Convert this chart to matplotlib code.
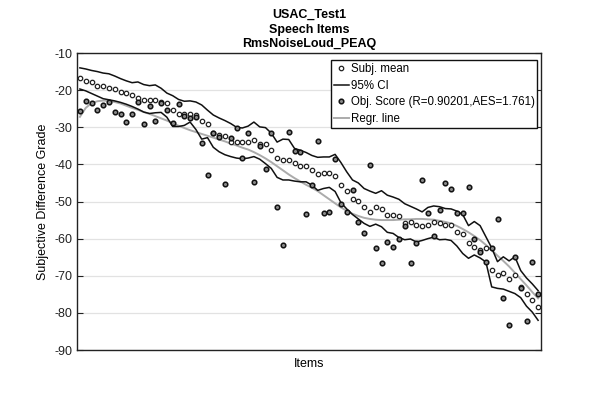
import matplotlib
matplotlib.use("Agg")
import matplotlib.pyplot as plt
import numpy as np

plt.rcParams['font.family'] = ['Liberation Sans Narrow', 'Liberation Sans', 'DejaVu Sans']
plt.rcParams['axes.unicode_minus'] = False

title_lines = ["USAC_Test1", "Speech Items", "RmsNoiseLoud_PEAQ"]
x_label = "Items"
y_label = "Subjective Difference Grade"
legend_labels = ["Subj. mean", "95% CI", "Obj. Score (R=0.90201,AES=1.761)", "Regr. line"]
y_ticks = [-10, -20, -30, -40, -50, -60, -70, -80, -90]

subj_mean = [
    -16.8, -17.5, -17.9, -18.8, -18.9, -19.3, -19.8, -20.4, -20.9, -21.3,
    -22.2, -22.7, -22.7, -22.7, -23.1, -23.6, -25.4, -26.5, -26.3, -26.3,
    -26.6, -28.2, -29.2, -31.6, -32.1, -32.3, -33.9, -34.1, -34.1, -33.9,
    -33.5, -34.5, -34.6, -36.0, -38.2, -38.8, -38.7, -39.7, -40.5, -40.5,
    -41.5, -42.7, -42.2, -42.3, -43.2, -45.6, -47.2, -49.2, -49.9, -51.6,
    -52.8, -51.6, -51.9, -53.7, -53.7, -53.8, -55.7, -55.5, -56.4, -56.5,
    -56.2, -55.5, -55.9, -56.4, -56.4, -58.2, -58.8, -61.3, -62.2, -63.1,
    -62.6, -68.5, -69.8, -69.2, -70.9, -69.8, -73.0, -74.8, -76.6, -78.4,
]

ci_upper = [
    -14.0, -14.3, -14.7, -15.0, -15.4, -15.6, -16.2, -16.9, -17.5, -18.0,
    -17.8, -18.5, -18.8, -18.6, -19.5, -20.8, -21.5, -22.5, -23.0, -22.9,
    -23.2, -24.0, -25.4, -26.7, -27.5, -28.2, -29.0, -30.0, -30.2, -29.7,
    -28.6, -29.9, -30.1, -31.6, -34.0, -33.2, -33.3, -35.7, -36.2, -36.8,
    -37.6, -38.1, -38.0, -38.0, -37.3, -39.5, -42.0, -44.2, -45.0, -46.5,
    -47.2, -47.8, -47.1, -48.3, -48.8, -49.4, -50.6, -51.3, -52.0, -52.8,
    -51.6, -51.2, -51.4, -51.9, -52.0, -52.6, -53.5, -56.5, -55.4, -56.5,
    -59.5, -62.5, -66.2, -64.9, -66.0, -64.9, -68.6, -70.6, -72.2, -74.0,
]

ci_lower = [
    -19.7, -20.2, -20.9, -21.6, -22.3, -22.6, -22.9, -23.3, -23.8, -24.4,
    -25.1, -25.9, -26.3, -26.1, -26.0, -27.3, -29.8, -29.8, -29.5, -28.6,
    -30.6, -33.2, -32.8, -35.4, -36.6, -37.4, -37.9, -38.3, -38.5, -38.3,
    -37.9, -38.6, -39.8, -41.1, -43.5, -44.2, -44.2, -44.5, -44.7, -44.7,
    -45.6, -47.0, -46.5, -46.2, -47.3, -50.3, -52.0, -53.5, -54.7, -55.9,
    -56.7, -56.1, -56.8, -58.3, -58.6, -59.7, -60.3, -60.1, -60.9, -60.5,
    -60.0, -59.6, -60.3, -60.2, -60.5, -62.0, -64.0, -65.3, -64.4, -65.2,
    -66.3, -73.0, -73.4, -73.6, -74.2, -74.8, -75.9, -78.2, -79.8, -82.0,
]

obj_score = [
    -25.5, -22.9, -23.6, -25.4, -24.0, -23.3, -26.0, -26.3, -28.7, -26.5,
    -23.1, -29.2, -24.3, -28.3, -23.5, -25.4, -28.8, -23.8, -27.0, -27.6,
    -27.3, -34.3, -42.9, -31.6, -32.5, -45.4, -32.8, -30.1, -38.4, -31.5,
    -44.7, -35.0, -41.3, -31.5, -51.4, -61.6, -31.4, -36.3, -36.6, -53.4,
    -45.6, -33.6, -53.2, -52.8, -38.6, -50.7, -52.9, -46.9, -55.5, -58.4,
    -40.2, -62.5, -66.7, -60.9, -62.2, -60.2, -56.6, -66.7, -61.1, -44.3,
    -53.2, -59.3, -52.3, -45.1, -46.5, -53.0, -53.0, -46.2, -60.0, -63.5,
    -66.2, -62.5, -54.6, -76.1, -83.3, -64.9, -73.2, -82.2, -66.3, -74.8,
]

regr_line = [
    -27.2, -24.8, -23.5, -23.0, -22.8, -22.9, -23.2, -23.6, -24.2, -24.8,
    -25.3, -25.9, -26.4, -27.0, -27.6, -28.2, -28.9, -29.6, -30.2, -30.8,
    -31.3, -31.8, -32.3, -32.8, -33.3, -33.8, -34.4, -34.9, -35.5, -36.0,
    -36.7, -37.5, -38.4, -39.4, -40.5, -41.6, -42.7, -43.7, -44.6, -45.5,
    -46.3, -47.2, -48.3, -49.4, -50.5, -51.6, -52.5, -53.3, -53.9, -54.4,
    -54.7, -54.9, -55.0, -55.0, -55.0, -54.9, -54.8, -54.8, -54.7, -54.7,
    -54.8, -54.9, -55.2, -55.5, -55.9, -56.6, -57.4, -58.3, -59.3, -60.4,
    -61.7, -63.1, -64.6, -66.0, -67.5, -69.2, -70.9, -72.6, -74.4, -76.1,
]

items = np.arange(1, len(subj_mean) + 1)

fig = plt.figure(figsize=(5.98, 3.93), dpi=100)
ax = fig.add_axes([77 / 598, 43 / 393, 464 / 598, 297 / 393])

h_subj, = ax.plot(items, subj_mean, linestyle='none', marker='o', markersize=3.2,
                  markerfacecolor='white', markeredgecolor='#222222', markeredgewidth=0.9, zorder=4)
h_ci, = ax.plot(items, ci_upper, color='#111111', lw=1.1, zorder=3)
ax.plot(items, ci_lower, color='#111111', lw=1.1, zorder=3)
h_obj, = ax.plot(items, obj_score, linestyle='none', marker='o', markersize=3.3,
                 markerfacecolor='#8a8a8a', markeredgecolor='#111111', markeredgewidth=1.1, zorder=5)
h_reg, = ax.plot(items, regr_line, color='#ababab', lw=1.4, zorder=2)

ax.set_xlim(0.5, len(items) + 0.5)
ax.set_ylim(-90, -10)
ax.set_yticks(y_ticks)
ax.set_xticks([])
ax.tick_params(axis='y', direction='in', length=4, left=True, right=True,
               labelsize=9, colors='#222222', width=0.8)
ax.yaxis.grid(True, color='#e2e2e2', lw=0.9)
ax.set_axisbelow(True)
for s in ax.spines.values():
    s.set_color('#222222')
    s.set_linewidth(1.0)

ax.set_title("\n".join(title_lines), fontsize=9, fontweight='bold', pad=4, linespacing=1.3)
ax.set_xlabel(x_label, fontsize=9, labelpad=6)
ax.set_ylabel(y_label, fontsize=9, labelpad=4)

leg = ax.legend([h_subj, h_ci, h_obj, h_reg], legend_labels,
                loc='upper right', bbox_to_anchor=(0.992, 0.977),
                fontsize=8.3, frameon=True, fancybox=False, framealpha=1,
                edgecolor='#111111', handlelength=1.3, handletextpad=0.15,
                borderpad=0.25, labelspacing=0.42, borderaxespad=0)
leg.get_frame().set_linewidth(1.0)

fig.savefig("out.png", dpi=100)
